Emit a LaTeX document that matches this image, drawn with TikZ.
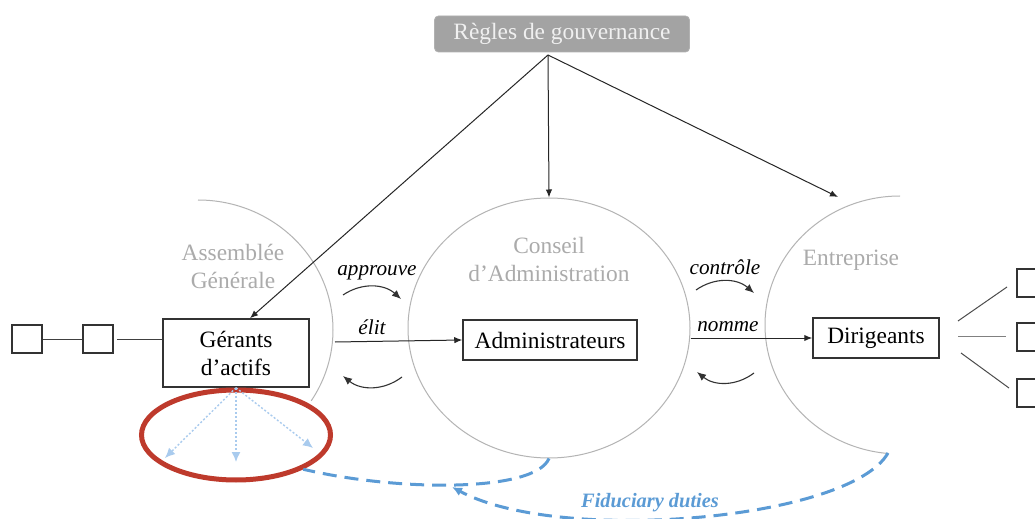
\documentclass[tikz,border=0pt]{standalone}
\usepackage{fontspec}
\setmainfont{Liberation Serif}
\usetikzlibrary{shapes.geometric,arrows.meta,calc}
\definecolor{circgray}{HTML}{B4B4B4}
\definecolor{labgray}{HTML}{ABABAB}
\definecolor{rulefill}{HTML}{A3A3A3}
\definecolor{redring}{HTML}{BE3A2C}
\definecolor{lightblue}{HTML}{A9CBEE}
\definecolor{fidblue}{HTML}{5B9BD5}
\newcommand\mainsz{\fontsize{11.7pt}{14pt}\selectfont}
\newcommand\itsz{\fontsize{10.6pt}{12pt}\selectfont\itshape}
\begin{document}
\begin{tikzpicture}[x=0.5pt,y=-0.5pt,
  box/.style={draw=black!80, line width=0.75pt, fill=white, inner sep=0pt, font=\mainsz, align=center},
  sq/.style={draw=black!80, line width=0.75pt, fill=white, inner sep=0pt, minimum width=15pt, minimum height=14pt},
  arr/.style={-{Latex[length=4pt,width=3.2pt]}, draw=black!85, line width=0.5pt},
  curv/.style={-{Latex[length=4.5pt,width=3.8pt]}, draw=black!80, line width=0.55pt},
  glab/.style={text=labgray, font=\mainsz, align=center, inner sep=0pt},
  ilab/.style={font=\itsz, inner sep=0pt},
  circ/.style={draw=circgray, line width=0.5pt},
  dotarr/.style={-{Latex[length=5pt,width=4.5pt]}, draw=lightblue, line width=0.7pt, dash pattern=on 1pt off 1pt},
  fid/.style={draw=fidblue, line width=1.5pt, dash pattern=on 7pt off 4pt},
]
\clip (0,0) rectangle (1035,519);
\fill[white] (0,0) rectangle (1035,519);

% governance rules
\node[fill=rulefill, draw=rulefill!85!white, rounded corners=2pt, minimum width=127.5pt, minimum height=18pt, inner sep=0pt, text=white!94!black, font=\mainsz] (regles) at (562,34) {Règles de gouvernance};
\coordinate (apex) at (548,55);

% circles
\node[ellipse, circ, minimum width=141pt, minimum height=130pt, inner sep=0pt] (ca) at (549,328) {};
\coordinate (agc) at (198,330);
\draw[circ] ($(agc)+(0,-130)$) arc[start angle=90, end angle=-33, x radius=67.5pt, y radius=65pt];
\coordinate (ent) at (900,325);
\draw[circ] ($(ent)+(0,-129)$) arc[start angle=90, end angle=265, x radius=67.5pt, y radius=64.5pt];

% circle labels
\node[glab] (aglab) at (233,266) {Assemblée\\Générale};
\node[glab] (calab) at (549,259) {Conseil\\d’Administration};
\node[glab] (entlab) at (851,260) {Entreprise};

% boxes
\node[box, minimum width=73pt, minimum height=34pt] (ger) at (236,353) {Gérants\\d’actifs};
\node[box, minimum width=87pt, minimum height=20pt] (adm) at (550,340) {Administrateurs};
\node[box, minimum width=63pt, minimum height=20pt] (dir) at (876,338) {Dirigeants};

% left chain
\node[sq] (l1) at (27,339) {};
\node[sq] (l2) at (98,339) {};
\draw[draw=black!75, line width=0.5pt] (l1.east) -- (l2.west);
\draw[draw=black!75, line width=0.5pt] ($(l2.east)+(3,0)$) -- (ger.west |- l2.east);

% right chain
\node[sq] (r1) at (1032,283) {};
\node[sq] (r2) at (1032,337) {};
\node[sq] (r3) at (1032,393) {};
\coordinate (ra1) at (958,321); \coordinate (rb1) at (1007,287);
\coordinate (ra2) at (958,336); \coordinate (rb2) at (1006,336);
\coordinate (ra3) at (961,353); \coordinate (rb3) at (1009,388);
\draw[draw=black!70, line width=0.5pt] (ra1) -- (rb1);
\draw[draw=black!50, line width=0.5pt] (ra2) -- (rb2);
\draw[draw=black!70, line width=0.5pt] (ra3) -- (rb3);

% governance arrows
\coordinate (entTop) at (838,197);
\draw[arr] (apex) -- ($(ger.north)+(14,0)$);
\draw[arr] (apex) -- (ca.north);
\draw[arr] (apex) -- (entTop);

% main arrows
\coordinate (agR) at (335,342);
\draw[arr] (agR) -- (adm.west);
\draw[arr] (ca.east |- dir.west) -- (dir.west);
\node[ilab] (elit) at (372,327) {élit};
\node[ilab] (nomme) at (728,327) {nomme};
\node[ilab] (appr) at (377,273) {approuve};
\node[ilab] (ctrl) at (725,267) {contrôle};

% curved arrows
\coordinate (c1a) at (343,295); \coordinate (c1b) at (401,299);
\coordinate (c2a) at (402,377); \coordinate (c2b) at (343,376);
\coordinate (c3a) at (696,290); \coordinate (c3b) at (754,293);
\coordinate (c4a) at (754,373); \coordinate (c4b) at (697,372);
\draw[curv] (c1a) to[bend left=38] (c1b);
\draw[curv] (c2a) to[bend left=38] (c2b);
\draw[curv] (c3a) to[bend left=38] (c3b);
\draw[curv] (c4a) to[bend left=38] (c4b);

% red ring
\node[ellipse, draw=redring, line width=2.5pt, minimum width=94.5pt, minimum height=45pt, inner sep=0pt] (ring) at (236,435) {};
\coordinate (d1) at (165,458);
\coordinate (d2) at (236,462);
\coordinate (d3) at (313,448);
\draw[dotarr] (ger.south) -- (d1);
\draw[dotarr] (ger.south) -- (d2);
\draw[dotarr] (ger.south) -- (d3);

% fiduciary duties
\coordinate (entBot) at (888,453);
\coordinate (merge) at (452,487);
\draw[fid] (ca.south) .. controls (535,492) and (400,492) .. (ring.-27);
\draw[fid, -{Latex[length=5pt,width=4.5pt]}] (entBot) .. controls (850,520) and (560,545) .. (merge);
\node[text=fidblue, font=\fontsize{10.2pt}{12pt}\selectfont\bfseries\itshape, inner sep=0pt] (fidlab) at (650,503) {Fiduciary duties};
\end{tikzpicture}
\end{document}
